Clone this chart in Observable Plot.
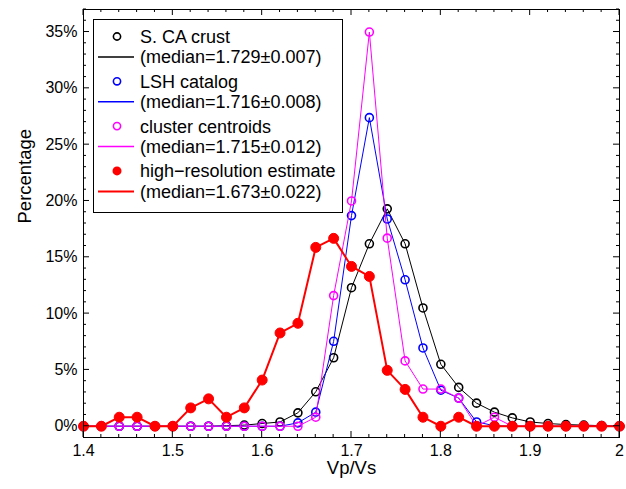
<!DOCTYPE html>
<html><head><meta charset="utf-8">
<script src="https://cdn.jsdelivr.net/npm/d3@7"></script>
<script src="https://cdn.jsdelivr.net/npm/@observablehq/plot@0.6"></script>
<style>body{margin:0;background:#fff}#chart{position:relative}</style>
</head><body><div id="chart"></div>
<script>
// Vp/Vs bin centres
const vpvs = [1.40,1.42,1.44,1.46,1.48,1.50,1.52,1.54,1.56,1.58,1.60,1.62,1.64,1.66,1.68,1.70,1.72,1.74,1.76,1.78,1.80,1.82,1.84,1.86,1.88,1.90,1.92,1.94,1.96,1.98,2.00];
// Percentages per series
const crust   = [0,0,0,0,0,0,0,0,0.05,0.1,0.24,0.38,1.19,3.06,6.08,12.3,16.2,19.3,16.2,10.5,5.5,3.45,2.05,1.25,0.74,0.38,0.24,0.15,0.1,0.05,0];
const lsh     = [0,0,0,0,0,0,0,0,0,0,0,0,0.3,1.25,7.54,18.7,27.4,18.4,13.0,6.95,3.2,2.5,0.38,0.05,0,0,0,0,0,0,0];
const cluster = [0,0,0,0,0,0,0,0,0,0,0,0,0,0.8,11.6,20.0,35.0,16.7,5.8,3.3,3.3,2.5,0,0.8,0,0,0,0,0,0,0];
const highres = [0,0,0.8,0.8,0,0,1.63,2.43,0.8,1.63,4.1,8.28,9.14,15.88,16.68,14.19,13.3,4.96,3.27,0.8,0,0.8,0,0,0,0,0,0,0,0,0];
// Series labels
const seriesNames = ["S. CA crust","LSH catalog","cluster centroids","high\u2212resolution estimate"];
const seriesMedians = ["(median=1.729\u00b10.007)","(median=1.716\u00b10.008)","(median=1.715\u00b10.012)","(median=1.673\u00b10.022)"];
const seriesColors = ["#000000","#0000ff","#ff00ff","#ff0000"];
const seriesValues = [crust, lsh, cluster, highres];
// Ticks
const xMajor = [1.4,1.5,1.6,1.7,1.8,1.9,2];
const xMinor = d3.range(0,31).map(i => 1.4 + i*0.02);
const yMajor = [0,5,10,15,20,25,30,35];
const yMinor = d3.range(0,38);

const series = seriesNames.map((name,k) => ({
  k, name, median: seriesMedians[k], color: seriesColors[k],
  rows: vpvs.map((x,i) => ({x, y: seriesValues[k][i]}))
}));

const marks = [];
for (const s of series) {
  const filled = s.k === 3;
  marks.push(Plot.line(s.rows, {x:"x", y:"y", stroke:s.color, strokeWidth: filled ? 2 : 1}));
  marks.push(filled
    ? Plot.dot(s.rows, {x:"x", y:"y", r:5, fill:s.color, stroke:s.color, strokeWidth:1})
    : Plot.dot(s.rows, {x:"x", y:"y", r:4, stroke:s.color, fill:"none", strokeWidth:1.6}));
}

const plot = Plot.plot({
  width: 626, height: 489,
  marginLeft: 83, marginRight: 7, marginTop: 9, marginBottom: 52,
  style: {fontFamily: "'Liberation Sans', Arial, Helvetica, sans-serif", fontSize: "16px", background: "#fff", color: "#000", overflow: "visible"},
  x: {domain: [1.4, 2.0]},
  y: {domain: [-1, 37]},
  marks: [
    Plot.axisX({ticks: xMajor, tickSize: 0, tickPadding: 7, label: null, fontSize: 16,
      tickFormat: d => Number.isInteger(d) ? String(d) : d.toFixed(1)}),
    Plot.axisY({ticks: yMajor, tickSize: 0, tickPadding: 6, label: null, fontSize: 16,
      tickFormat: d => d + "%"}),
    ...marks,
    Plot.frame({stroke: "#000", strokeWidth: 1}),
    Plot.text(["Percentage"], {text: d => d, frameAnchor: "left", lineAnchor: "middle", dx: -58, rotate: -90, fontSize: 18.5}),
    Plot.text(["Vp/Vs"], {text: d => d, frameAnchor: "bottom", lineAnchor: "middle", dy: 31, fontSize: 18.5})
  ]
});
document.getElementById("chart").appendChild(plot);

// inward ticks on all four sides
const sx = plot.scale("x"), sy = plot.scale("y");
const svg = d3.select(plot);
const L = sx.apply(1.4), R = sx.apply(2.0), T = sy.apply(37), B = sy.apply(-1);
const g = svg.append("g").attr("stroke", "#000").attr("stroke-width", 1);
for (const v of xMinor) {
  const px = sx.apply(v);
  const major = xMajor.some(m => Math.abs(m - v) < 1e-6);
  const len = major ? 6 : 3;
  g.append("line").attr("x1", px).attr("x2", px).attr("y1", B).attr("y2", B - len);
  g.append("line").attr("x1", px).attr("x2", px).attr("y1", T).attr("y2", T + len);
}
for (const v of yMinor) {
  const py = sy.apply(v);
  const len = yMajor.includes(v) ? 6 : 3;
  g.append("line").attr("x1", L).attr("x2", L + len).attr("y1", py).attr("y2", py);
  g.append("line").attr("x1", R).attr("x2", R - len).attr("y1", py).attr("y2", py);
}

// legend box
const lg = svg.append("g").attr("font-family", "'Liberation Sans', Arial, Helvetica, sans-serif")
  .attr("font-size", 18).attr("text-anchor", "start").attr("fill", "#000");
lg.append("rect").attr("x", 93.5).attr("y", 19.5).attr("width", 249).attr("height", 193)
  .attr("fill", "#fff").attr("stroke", "#000").attr("stroke-width", 1);
series.forEach((s, i) => {
  const y1 = 36.5 + i * 44.8, y2 = 57 + i * 44.8;
  if (s.k === 3) lg.append("circle").attr("cx", 117).attr("cy", y1).attr("r", 4.5).attr("fill", s.color);
  else lg.append("circle").attr("cx", 117).attr("cy", y1).attr("r", 3.6).attr("fill", "none").attr("stroke", s.color).attr("stroke-width", 1.6);
  lg.append("line").attr("x1", 98).attr("x2", 134).attr("y1", y2).attr("y2", y2).attr("stroke", s.color).attr("stroke-width", s.k === 3 ? 2 : 1.5);
  lg.append("text").attr("x", 140).attr("y", y1).attr("dy", "0.36em").attr("text-anchor", "start").text(s.name);
  lg.append("text").attr("x", 140).attr("y", y2).attr("dy", "0.36em").attr("text-anchor", "start").text(s.median);
});
</script>
</body></html>
